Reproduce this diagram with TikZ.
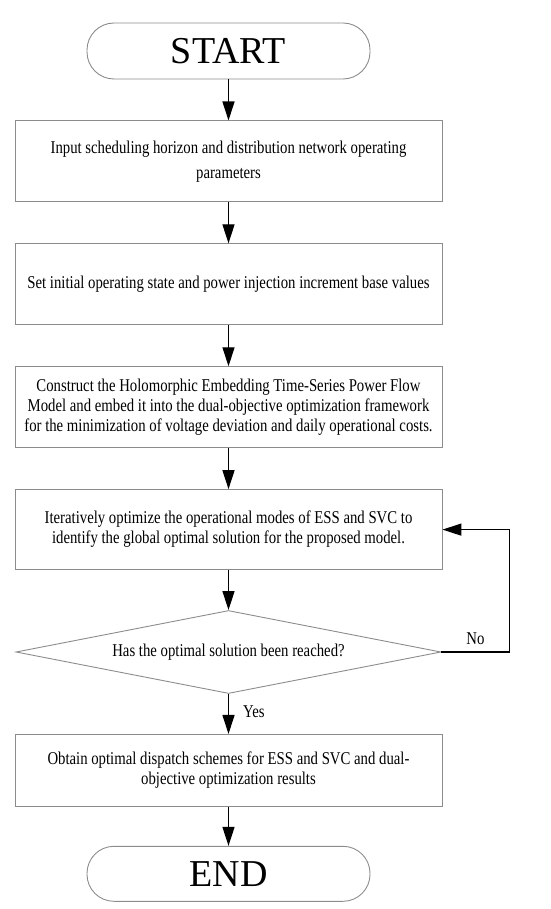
\documentclass[tikz,border=0pt]{standalone}
\usepackage{fontspec}
\setmainfont{Liberation Serif}
\newfontfamily\boxfont{Liberation Serif}[FakeStretch=0.82]
\usetikzlibrary{positioning,shapes.geometric,arrows.meta}

\begin{document}
\begin{tikzpicture}[x=1pt,y=1pt,node distance=41pt,
   term/.style={draw=black!45, line width=0.9pt, rounded corners=27pt, minimum width=283pt, minimum height=56pt, inner sep=0pt, font=\fontsize{38}{42}\selectfont},
   proc/.style={draw=black!45, line width=0.9pt, minimum width=427pt, minimum height=81pt, inner sep=0pt, align=center, font=\boxfont\fontsize{18}{20}\selectfont},
   dec/.style={draw=black!45, line width=0.9pt, diamond, aspect=5.1, minimum width=425pt, minimum height=83pt, inner sep=0pt, font=\boxfont\fontsize{18}{20}\selectfont},
   lbl/.style={font=\boxfont\fontsize{18}{20}\selectfont, inner sep=2pt},
   flow/.style={-{Triangle[length=19pt,width=12pt]}, line width=1.3pt}]

   \useasboundingbox (0,0) rectangle (550,-909);

   \node[term] at (228.5,-51)        (S)     {START} ; %
   \node[proc, below=of S]           (In)    {Input scheduling horizon and distribution network operating\\[5pt]parameters} ; %
   \node[proc, below=of In]          (Init)  {Set initial operating state and power injection increment base values} ; %
   \node[proc, below=of Init]        (Mod)   {Construct the Holomorphic Embedding Time-Series Power Flow\\Model and embed it into the dual-objective optimization framework\\for the minimization of voltage deviation and daily operational costs.} ; %
   \node[proc, below=of Mod, minimum height=80pt] (Opt) {Iteratively optimize the operational modes of ESS and SVC to\\identify the global optimal solution for the proposed model.} ; %
   \node[dec, below=40pt of Opt]     (Chk)   {Has the optimal solution been reached?} ; %
   \node[proc, below=40pt of Chk, minimum height=72pt] (Res) {Obtain optimal dispatch schemes for ESS and SVC and dual-\\objective optimization results} ; %
   \node[term, below=39pt of Res, minimum height=55pt] (E) {END} ; %

   \draw[flow] (S) -- (In) ;
   \draw[flow] (In) -- (Init) ;
   \draw[flow] (Init) -- (Mod) ;
   \draw[flow] (Mod) -- (Opt) ;
   \draw[flow] (Opt) -- (Chk) ;
   \draw[flow] (Chk) -- node[lbl, right=12pt, pos=0.45] {Yes} (Res) ;
   \draw[flow] (Res) -- (E) ;
   \draw[flow] (Chk.east) -- node[lbl, above=5pt] {No} ++(68,0) |- (Opt.east) ;

\end{tikzpicture}
\end{document}
